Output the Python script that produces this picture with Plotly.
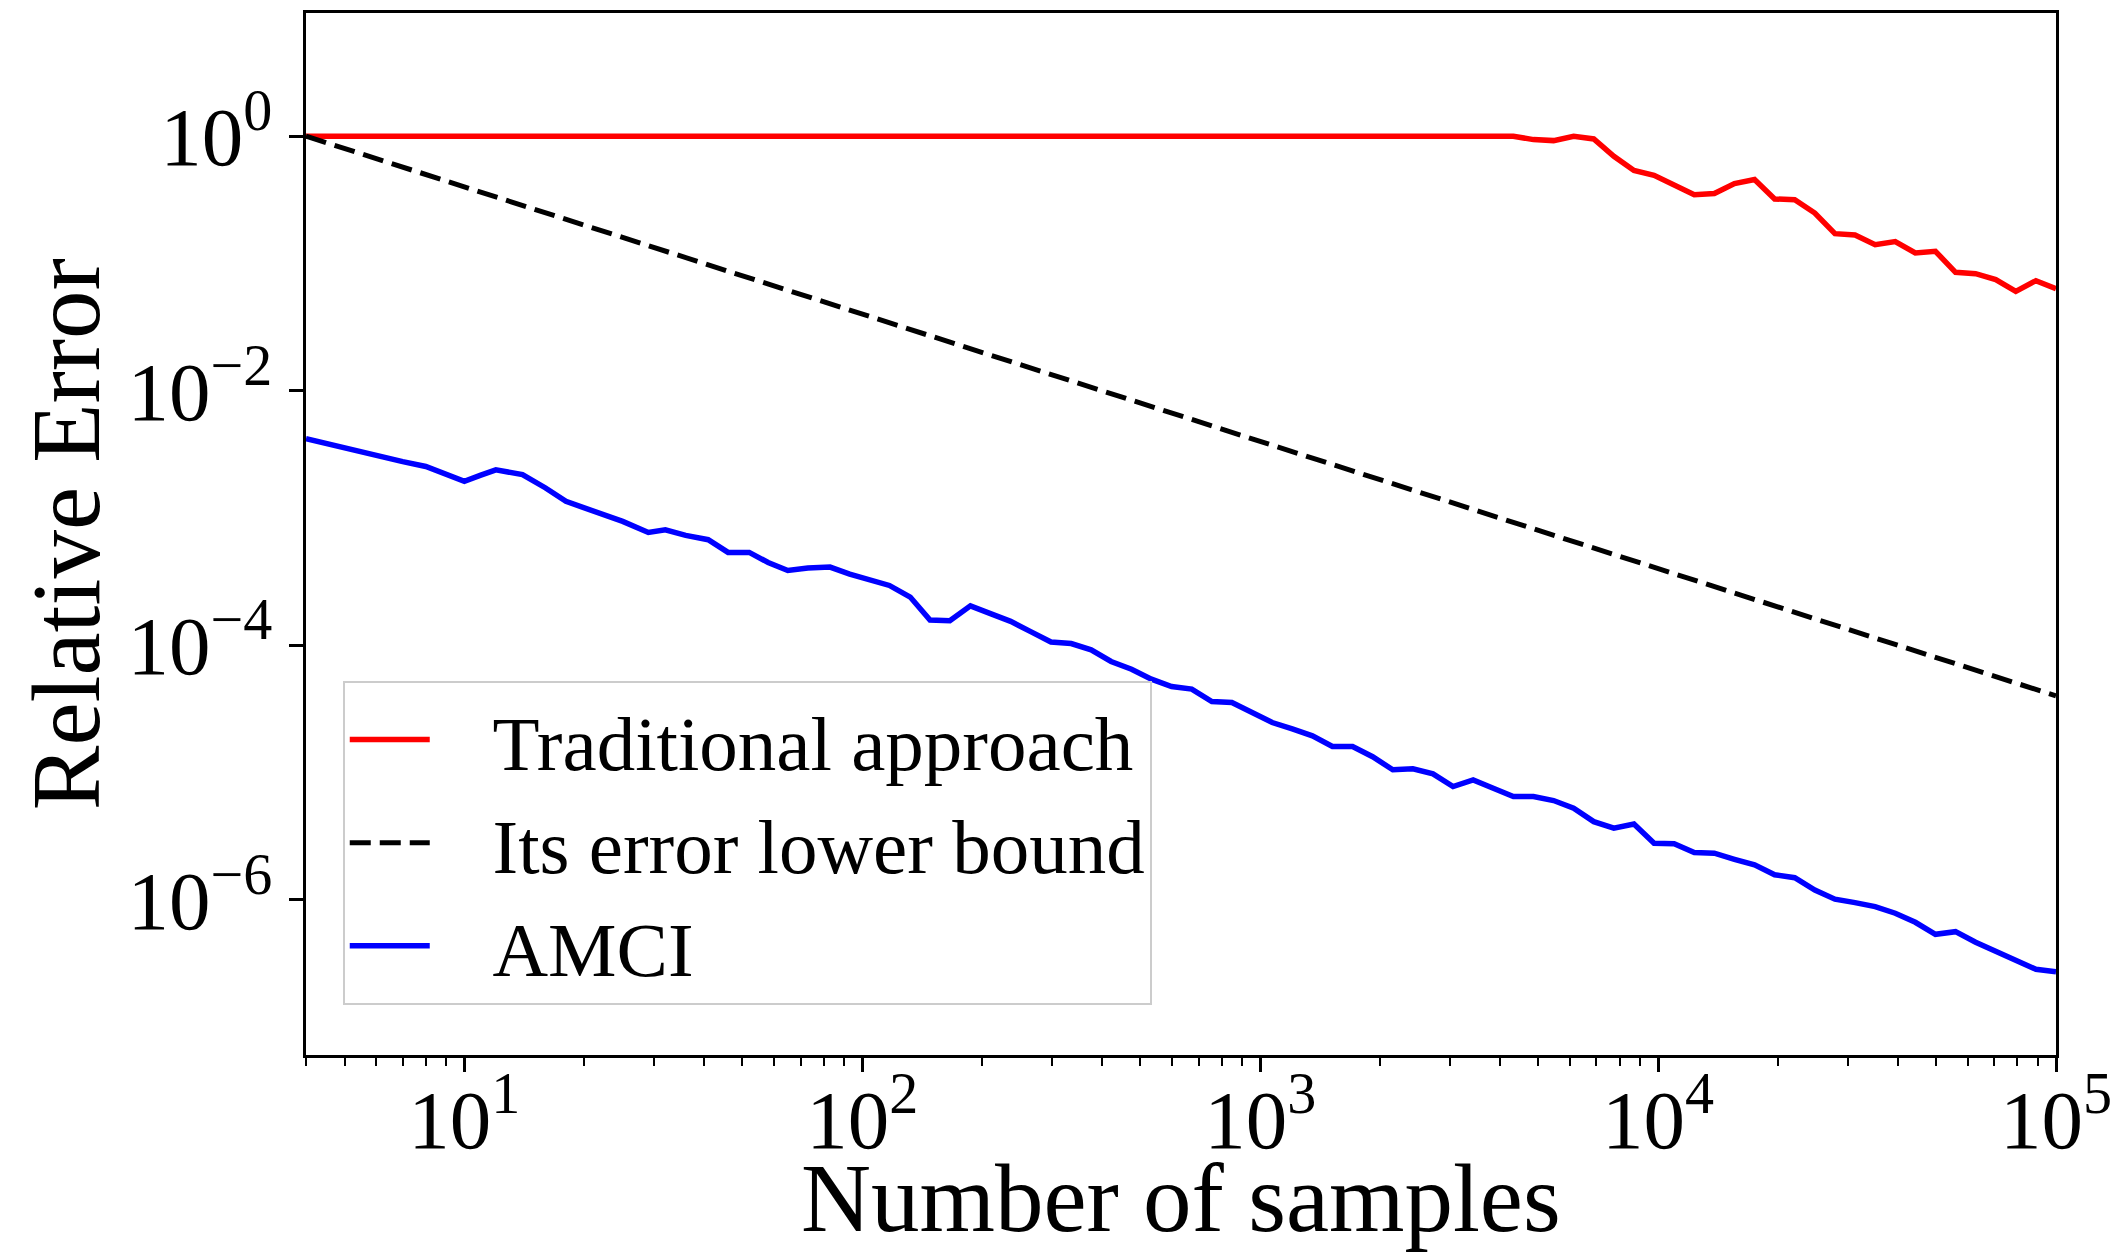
import math
import plotly.graph_objects as go

# ---------------- data ----------------
samples = [4, 5, 6, 7, 8, 9, 10, 11, 12, 14, 16, 18, 20, 23, 25, 29, 32, 36, 41, 46,
           52, 58, 65, 73, 83, 93, 104, 117, 132, 148, 166, 187, 210, 236, 265, 298,
           335, 376, 422, 475, 533, 599, 673, 756, 849, 954, 1072, 1204, 1353, 1519,
           1707, 1917, 2154, 2420, 2718, 3053, 3430, 3853, 4328, 4862, 5462, 6135,
           6892, 7742, 8697, 9770, 10974, 12328, 13848, 15556, 17475, 19630, 22051,
           24770, 27825, 31257, 35111, 39442, 44306, 49770, 55908, 62802, 70548,
           79248, 89021, 100000]

amci_error = [4.19e-3, 3.52e-3, 3.06e-3, 2.77e-3, 2.54e-3, 2.19e-3, 1.94e-3, 2.17e-3,
              2.39e-3, 2.19e-3, 1.72e-3, 1.35e-3, 1.20e-3, 1.02e-3, 9.40e-4, 7.70e-4,
              8.07e-4, 7.29e-4, 6.75e-4, 5.36e-4, 5.36e-4, 4.47e-4, 3.87e-4, 4.04e-4,
              4.11e-4, 3.62e-4, 3.31e-4, 2.95e-4, 2.39e-4, 1.58e-4, 1.56e-4, 2.04e-4,
              1.77e-4, 1.54e-4, 1.28e-4, 1.06e-4, 1.03e-4, 9.20e-5, 7.45e-5, 6.48e-5,
              5.41e-5, 4.74e-5, 4.52e-5, 3.61e-5, 3.55e-5, 2.98e-5, 2.47e-5, 2.20e-5,
              1.94e-5, 1.60e-5, 1.60e-5, 1.33e-5, 1.05e-5, 1.07e-5, 9.75e-6, 7.75e-6,
              8.74e-6, 7.52e-6, 6.47e-6, 6.47e-6, 6.02e-6, 5.24e-6, 4.11e-6, 3.65e-6,
              3.94e-6, 2.78e-6, 2.75e-6, 2.35e-6, 2.32e-6, 2.08e-6, 1.88e-6, 1.57e-6,
              1.49e-6, 1.19e-6, 1.01e-6, 9.49e-7, 8.83e-7, 7.83e-7, 6.65e-7, 5.35e-7,
              5.61e-7, 4.63e-7, 3.96e-7, 3.36e-7, 2.84e-7, 2.72e-7]

trad_samples = [4, 4328, 4862, 5462, 6135, 6892, 7742, 8697, 9770, 10974, 12328,
                13848, 15556, 17475, 19630, 22051, 24770, 27825, 31257, 35111, 39442,
                44306, 49770, 55908, 62802, 70548, 79248, 89021, 100000]
trad_error = [1.0, 1.0, 0.940, 0.923, 1.0, 0.952, 0.695, 0.537, 0.493, 0.409, 0.347,
              0.354, 0.424, 0.456, 0.321, 0.317, 0.249, 0.1715, 0.1674, 0.1405, 0.1484,
              0.1209, 0.1246, 0.0852, 0.0831, 0.0746, 0.0604, 0.0732, 0.0633]

bound_samples = [4, 100000]
bound_error = [1.0, 4e-5]

series_names = ["Traditional approach", "Its error lower bound", "AMCI"]
x_title = "Number of samples"
y_title = "Relative Error"

x_tickvals = [10, 100, 1000, 10000, 100000]
x_ticktext = ["10<sup>1</sup>", "10<sup>2</sup>", "10<sup>3</sup>", "10<sup>4</sup>", "10<sup>5</sup>"]
y_tickvals = [1, 1e-2, 1e-4, 1e-6]
y_ticktext = ["10<sup>0</sup>", "10<sup>\u22122</sup>", "10<sup>\u22124</sup>", "10<sup>\u22126</sup>"]

x_min, x_max = 4, 1e5
y_min_exp, y_max_exp = -7.22, 0.968

# ---------------- styling ----------------
FONT = "Liberation Serif, Times New Roman, serif"
minor_x = [m * 10 ** d for d in range(0, 5) for m in range(2, 10) if x_min <= m * 10 ** d <= x_max]
GAP = "\u00a0\u00a0\u00a0"

fig = go.Figure()
fig.add_trace(go.Scatter(x=trad_samples, y=trad_error, mode="lines", name=GAP + series_names[0],
                         line=dict(color="#ff0000", width=5.5)))
fig.add_trace(go.Scatter(x=bound_samples, y=bound_error, mode="lines", name=GAP + series_names[1],
                         line=dict(color="black", width=5, dash="21px,9px")))
fig.add_trace(go.Scatter(x=samples, y=amci_error, mode="lines", name=GAP + series_names[2],
                         line=dict(color="#0000ff", width=5.5)))

axis_common = dict(
    showline=True, linecolor="black", linewidth=3, mirror=True,
    ticks="outside", ticklen=14, tickwidth=3, tickcolor="black",
    showgrid=False, zeroline=False, automargin=False,
    tickfont=dict(family=FONT, size=83, color="black"),
)

fig.update_xaxes(type="log", range=[math.log10(x_min), math.log10(x_max)],
                 tickmode="array", tickvals=x_tickvals, ticktext=x_ticktext,
                 ticklabelstandoff=-24,
                 minor=dict(tickmode="array", tickvals=minor_x, ticks="outside", ticklen=8,
                            tickwidth=2, tickcolor="black", showgrid=False),
                 **axis_common)
fig.update_yaxes(type="log", range=[y_min_exp, y_max_exp],
                 tickmode="array", tickvals=y_tickvals, ticktext=y_ticktext,
                 **axis_common)

fig.add_annotation(text=x_title, xref="paper", yref="paper", x=0.5, y=-0.138,
                   xanchor="center", yanchor="middle", showarrow=False,
                   font=dict(family=FONT, size=97, color="black"))
fig.add_annotation(text=y_title, xref="paper", yref="paper", x=-0.137, y=0.5,
                   xanchor="center", yanchor="middle", textangle=-90, showarrow=False,
                   font=dict(family=FONT, size=97, color="black"))

fig.update_layout(
    template="none",
    width=2121, height=1255,
    margin=dict(l=306, r=65, t=13, b=200, pad=0),
    plot_bgcolor="white", paper_bgcolor="white",
    font=dict(family=FONT, color="black"),
    showlegend=True,
    legend=dict(x=0.021, y=0.048, xanchor="left", yanchor="bottom",
                bordercolor="#cccccc", borderwidth=2, bgcolor="rgba(255,255,255,0.8)",
                font=dict(family=FONT, size=77, color="black"),
                itemwidth=80, tracegroupgap=0),
)

fig.write_html("out.html")
